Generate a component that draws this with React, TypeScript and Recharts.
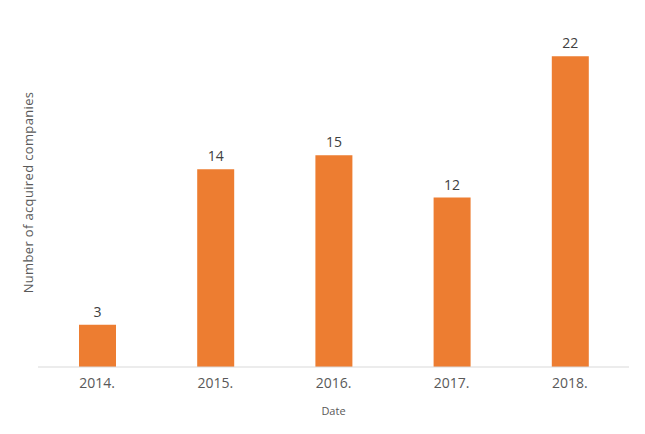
import { BarChart, Bar, XAxis, YAxis, LabelList } from "recharts";

const years = ["2014.", "2015.", "2016.", "2017.", "2018."];
const acquired = [3, 14, 15, 12, 22];

const data = years.map((year, i) => ({ year, count: acquired[i] }));

const font = "'Open Sans', 'DejaVu Sans', sans-serif";

export default function App() {
  return (
    <div style={{ position: "absolute", left: 0, top: 0, background: "#fff" }}>
      <BarChart
        width={645}
        height={434}
        data={data}
        margin={{ top: 28, right: 16, left: 0, bottom: 0 }}
        barCategoryGap={0}
      >
        <XAxis
          dataKey="year"
          height={67}
          axisLine={{ stroke: "#D9D9D9" }}
          tickLine={false}
          tick={{ fill: "#595959", fontSize: 14, fontFamily: font }}
          tickMargin={5}
          label={{
            value: "Date",
            position: "insideBottom",
            offset: 19,
            fill: "#595959",
            fontSize: 11,
            fontFamily: font,
          }}
        />
        <YAxis
          width={38}
          domain={[0, 24]}
          axisLine={false}
          tickLine={false}
          tick={false}
          label={{
            value: "Number of acquired companies",
            angle: -90,
            position: "center",
            dx: 9,
            dy: -5,
            fill: "#595959",
            fontSize: 13,
            letterSpacing: 0.35,
            fontFamily: font,
          }}
        />
        <Bar dataKey="count" fill="#ED7D31" barSize={37} isAnimationActive={false}>
          <LabelList
            dataKey="count"
            position="top"
            offset={8}
            fill="#404040"
            fontSize={14}
            fontFamily={font}
          />
        </Bar>
      </BarChart>
    </div>
  );
}
